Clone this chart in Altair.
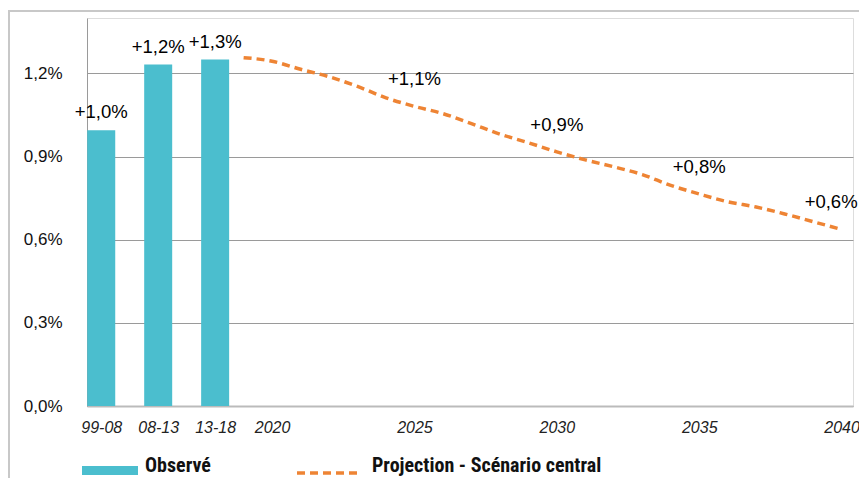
import altair as alt
import pandas as pd

# ---- data ----
periods = ["99-08", "08-13", "13-18"]
period_slots = [2014, 2016, 2018]          # x slots used by the observed periods
observed = [0.995, 1.232, 1.250]
observed_labels = ["+1,0%", "+1,2%", "+1,3%"]

years = list(range(2019, 2041))
projection = [1.257, 1.244, 1.215, 1.188, 1.153, 1.112, 1.081, 1.055, 1.019, 0.981,
              0.950, 0.917, 0.888, 0.863, 0.835, 0.796, 0.765, 0.737, 0.718, 0.693,
              0.665, 0.637]
proj_label_years = [2025, 2030, 2035, 2040]
proj_labels = ["+1,1%", "+0,9%", "+0,8%", "+0,6%"]

x_ticks = [2014, 2016, 2018, 2020, 2025, 2030, 2035, 2040]
y_ticks = [0, 0.3, 0.6, 0.9, 1.2]
legend_names = ["Observé", "Projection - Scénario central"]

BLUE = "#4BBECE"
ORANGE = "#EE8434"
FONT = "Liberation Sans"
NARROW = "'Liberation Sans Narrow', 'Arial Narrow', 'Roboto Condensed', 'DejaVu Sans Condensed', 'Liberation Sans'"

bars_df = pd.DataFrame({"slot": period_slots, "value": observed,
                        "label": observed_labels, "period": periods})
line_df = pd.DataFrame({"year": years, "value": projection})
lab_df = pd.DataFrame({"year": proj_label_years, "label": proj_labels})
lab_df = lab_df.merge(line_df, on="year")
dummy = pd.DataFrame({"a": [0]})

W, H = 766, 388

label_map = " : ".join(f"datum.value == {s} ? '{p}'" for s, p in zip(period_slots, periods))
x_label_expr = label_map + " : format(datum.value, 'd')"

xscale = alt.Scale(domain=[2013.5, 2040.4], nice=False, zero=False, padding=0)
yscale = alt.Scale(domain=[0, 1.4], nice=False)

x_axis = alt.Axis(values=x_ticks, labelExpr=x_label_expr, title=None, grid=False,
                  ticks=False, tickSize=0, labelPadding=13, labelFont=FONT,
                  labelFontSize=16, labelFontStyle="italic", labelColor="#222222",
                  labelOverlap=False, labelFlush=False, domainColor="#BBBBBB",
                  domainWidth=2)
y_axis = alt.Axis(values=y_ticks,
                  labelExpr="replace(format(datum.value, '.1f'), '.', ',') + '%'",
                  title=None, grid=True, gridColor="#9A9A9A", gridWidth=1,
                  ticks=False, tickSize=0, labelPadding=25, labelFont=FONT,
                  labelFontSize=17, labelColor="#111111", domainColor="#9A9A9A",
                  domainWidth=1)

bars = alt.Chart(bars_df).mark_bar(size=28, color=BLUE).encode(
    x=alt.X("slot:Q", scale=xscale, axis=x_axis),
    y=alt.Y("value:Q", scale=yscale, axis=y_axis),
)

bar_text = alt.Chart(bars_df).mark_text(
    font=FONT, fontSize=18.5, color="#000000", dy=-18, baseline="middle"
).encode(x=alt.X("slot:Q", scale=xscale), y=alt.Y("value:Q", scale=yscale), text="label:N")

line = alt.Chart(line_df).mark_line(
    color=ORANGE, strokeWidth=3.5, strokeDash=[8, 5], interpolate="monotone"
).encode(x=alt.X("year:Q", scale=xscale), y=alt.Y("value:Q", scale=yscale))

proj_text = alt.Chart(lab_df).transform_filter("datum.year < 2040").mark_text(
    font=FONT, fontSize=18.5, color="#000000", dy=-27, baseline="middle"
).encode(x=alt.X("year:Q", scale=xscale), y=alt.Y("value:Q", scale=yscale), text="label:N")

proj_text_last = alt.Chart(lab_df).transform_filter("datum.year == 2040").mark_text(
    font=FONT, fontSize=18.5, color="#000000", dy=-27, dx=16, align="right", baseline="middle"
).encode(x=alt.X("year:Q", scale=xscale), y=alt.Y("value:Q", scale=yscale), text="label:N")

# outer frame
frame = alt.Chart(dummy).mark_rect(
    filled=False, stroke="#C8C8C8", strokeWidth=2
).encode(x=alt.value(-78), x2=alt.value(W + 60), y=alt.value(-7), y2=alt.value(H + 150))

# legend
leg_bar = alt.Chart(dummy).mark_rect(color=BLUE).encode(
    x=alt.value(-5), x2=alt.value(51), y=alt.value(448), y2=alt.value(457))
leg_text1 = alt.Chart(dummy).mark_text(
    font=NARROW, fontSize=20, fontWeight="bold", align="left", baseline="middle", color="#111111"
).encode(x=alt.value(58), y=alt.value(448), text=alt.value(legend_names[0]))
leg_dash = alt.Chart(dummy).mark_rule(
    color=ORANGE, strokeWidth=3.5, strokeDash=[8, 5]
).encode(x=alt.value(210), x2=alt.value(270), y=alt.value(455))
leg_text2 = alt.Chart(dummy).mark_text(
    font=NARROW, fontSize=20, fontWeight="bold", align="left", baseline="middle", color="#111111"
).encode(x=alt.value(285), y=alt.value(448), text=alt.value(legend_names[1]))

chart = alt.layer(
    frame, bars, line, bar_text, proj_text, proj_text_last,
    leg_bar, leg_text1, leg_dash, leg_text2
).properties(
    width=W, height=H,
    autosize=alt.AutoSizeParams(type="none"),
    padding={"left": 79, "top": 10, "right": 6, "bottom": 72},
).configure_view(stroke=None).configure(background="white")

chart.save("out.html", embed_options={"renderer": "svg", "actions": False})
